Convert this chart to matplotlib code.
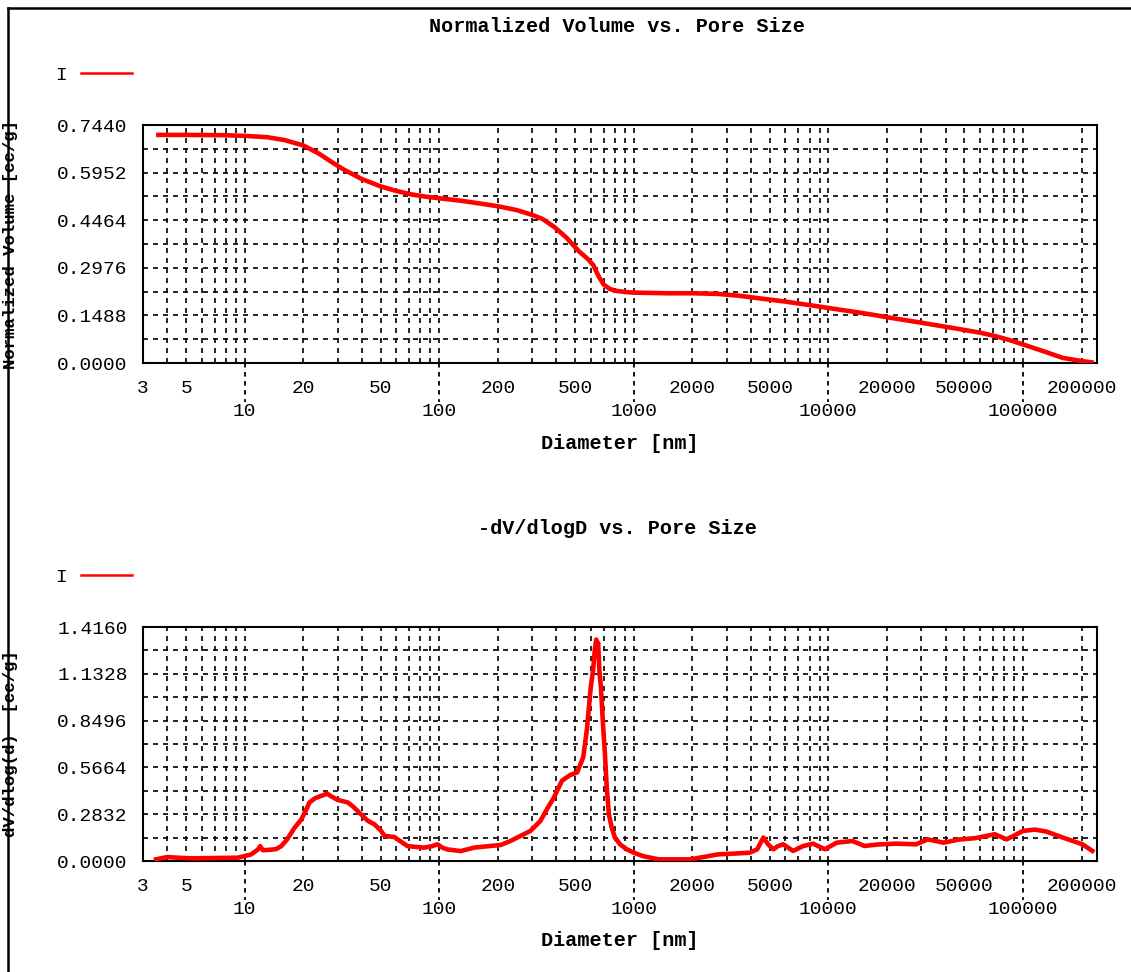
import numpy as np
import matplotlib
matplotlib.use('Agg')
import matplotlib.pyplot as plt
from matplotlib.lines import Line2D
from matplotlib.ticker import FixedLocator, FuncFormatter, NullFormatter
import matplotlib.transforms as mtrans

plt.rcParams['font.family'] = ['Liberation Mono', 'DejaVu Sans Mono']

# cumulative normalized volume
diamTop = [3.6, 5, 8, 10, 13, 16, 20, 24, 28, 32, 40, 50, 60, 72, 85, 100, 130, 160, 200,
           250, 300, 340, 390, 450, 520, 580, 620, 660, 700, 750, 800, 900, 1000, 1500,
           2000, 2700, 3500, 4300, 6000, 8000, 10000, 15000, 22000, 30000, 45000, 60000,
           72000, 85000, 100000, 130000, 160000, 200000, 225000]
volTop = [0.713, 0.713, 0.712, 0.710, 0.706, 0.697, 0.680, 0.655, 0.628, 0.606, 0.575,
          0.552, 0.538, 0.527, 0.520, 0.515, 0.507, 0.499, 0.490, 0.478, 0.463, 0.450,
          0.425, 0.392, 0.350, 0.325, 0.305, 0.270, 0.245, 0.232, 0.226, 0.222, 0.220,
          0.218, 0.218, 0.216, 0.210, 0.203, 0.192, 0.181, 0.172, 0.156, 0.139, 0.126,
          0.108, 0.095, 0.084, 0.072, 0.058, 0.035, 0.016, 0.006, 0.002]

# -dV/dlogD
diamBot = [3.5, 4.0, 4.5, 5.3, 7, 9.2, 10, 10.8, 11.7, 12.0, 12.4, 13.5, 14.5, 15.4, 16.5,
           18, 19.5, 20.5, 21.5, 23, 24.7, 26.5, 27.5, 30, 33.9, 36, 38, 42.9, 46.4, 50,
           52.3, 58.8, 63, 68.7, 76, 83.6, 92, 97.8, 104, 110, 129, 151, 180, 207, 232,
           250, 272, 294, 331, 360, 388, 427, 470, 511, 549, 574, 600, 617, 630, 641, 648,
           655, 665, 677, 692, 710, 725, 744, 770, 799, 850, 919, 1000, 1110, 1338, 1946,
           2300, 2700, 3300, 3930, 4300, 4630, 4900, 5210, 5500, 5855, 6580, 7400, 8325,
           9590, 11030, 13300, 15300, 18000, 22300, 28200, 32400, 39000, 47000, 56600,
           71600, 82400, 100000, 115000, 132000, 160000, 202000, 227000]
dvBot = [0.01, 0.024, 0.02, 0.016, 0.018, 0.02, 0.03, 0.04, 0.07, 0.09, 0.065, 0.068,
         0.072, 0.09, 0.13, 0.2, 0.25, 0.30, 0.354, 0.38, 0.394, 0.408, 0.395, 0.37,
         0.354, 0.33, 0.303, 0.243, 0.222, 0.185, 0.152, 0.145, 0.12, 0.09, 0.085, 0.081,
         0.09, 0.101, 0.08, 0.07, 0.06, 0.081, 0.09, 0.097, 0.121, 0.14, 0.162, 0.182,
         0.243, 0.32, 0.384, 0.486, 0.52, 0.536, 0.627, 0.80, 1.05, 1.153, 1.28, 1.34,
         1.30, 1.32, 1.15, 1.052, 0.85, 0.647, 0.45, 0.283, 0.2, 0.142, 0.1, 0.071, 0.05,
         0.03, 0.01, 0.01, 0.025, 0.04, 0.045, 0.05, 0.07, 0.142, 0.1, 0.071, 0.09, 0.101,
         0.061, 0.09, 0.105, 0.071, 0.111, 0.121, 0.091, 0.1, 0.105, 0.101, 0.131, 0.111,
         0.13, 0.138, 0.162, 0.131, 0.182, 0.19, 0.178, 0.142, 0.101, 0.061]

xMin, xMax = 3, 240000
majorX = [10, 100, 1000, 10000, 100000]
labelledMinor = [3, 5, 20, 50, 200, 500, 2000, 5000, 20000, 50000, 200000]
topMax, topStep = 0.744, 0.0744
botMax, botStep = 1.416, 0.1416

W, H = 1131, 972
fig = plt.figure(figsize=(W / 100, H / 100), dpi=100)

def setupAxes(ax, ymax, ystep, ylabel):
	ax.set_xscale('log')
	ax.set_xlim(xMin, xMax)
	ax.set_ylim(0, ymax)
	minors = [m * 10 ** e for e in range(0, 6) for m in range(2, 10) if xMin <= m * 10 ** e <= xMax]
	minors = [v for v in minors if v not in majorX]
	ax.xaxis.set_major_locator(FixedLocator(majorX))
	ax.xaxis.set_minor_locator(FixedLocator(minors))
	ax.xaxis.set_major_formatter(FuncFormatter(lambda v, p: '%d' % round(v)))
	ax.xaxis.set_minor_formatter(FuncFormatter(
		lambda v, p: ('%d' % round(v)) if any(abs(v - l) < 1e-6 * l for l in labelledMinor) else ''))
	yt = np.arange(0, 11) * ystep
	ax.yaxis.set_major_locator(FixedLocator(yt[::2]))
	ax.yaxis.set_minor_locator(FixedLocator(yt[1::2]))
	ax.yaxis.set_major_formatter(FuncFormatter(lambda v, p: '%.4f' % v))
	ax.yaxis.set_minor_formatter(NullFormatter())
	ax.tick_params(axis='x', which='major', length=0, pad=29, labelsize=14)
	ax.tick_params(axis='x', which='minor', length=0, pad=12, labelsize=14)
	ax.tick_params(axis='y', which='both', length=0, pad=11, labelsize=14)
	ax.grid(True, which='both', color='k', ls=(0, (3, 3)), lw=1.2)
	for s in ax.spines.values():
		s.set_linewidth(1.5)
	# dashed outward major ticks, gnuplot style
	trans = mtrans.blended_transform_factory(ax.transData, ax.transAxes)
	for v in majorX:
		ax.plot([v, v], [0, -0.165], transform=trans, clip_on=False, color='k',
				ls=(0, (2.5, 2.5)), lw=1.3)
	ax.set_xlabel('Diameter [nm]', fontsize=14.5, fontweight='bold')
	ax.xaxis.set_label_coords(0.5, -0.30)
	ax.set_ylabel(ylabel, fontsize=12.5, fontweight='bold')
	ax.yaxis.set_label_coords(-0.131, 0.5)

axTop = fig.add_axes([143 / W, 1 - 363 / H, 954 / W, 238 / H])
axBot = fig.add_axes([143 / W, 1 - 861 / H, 954 / W, 234 / H])

axTop.plot(diamTop, volTop, color='red', lw=3.3, label='I', zorder=5)
axBot.plot(diamBot, dvBot, color='red', lw=3.3, label='I', zorder=5)

setupAxes(axTop, topMax, topStep, 'Normalized Volume [cc/g]')
setupAxes(axBot, botMax, botStep, 'dV/dlog(d)  [cc/g]')

fig.text(617 / W, 1 - 27 / H, 'Normalized Volume vs. Pore Size', ha='center', va='center',
		 fontsize=14.5, fontweight='bold')
fig.text(617 / W, 1 - 528 / H, '-dV/dlogD vs. Pore Size', ha='center', va='center',
		 fontsize=14.5, fontweight='bold')

for ax, ly in [(axTop, 75), (axBot, 577)]:
	leg = ax.legend(loc='center left', bbox_to_anchor=(55 / W, 1 - ly / H),
					bbox_transform=fig.transFigure, frameon=False, markerfirst=False,
					handlelength=2.6, handletextpad=0.75, borderpad=0, borderaxespad=0,
					prop={'size': 14})
	leg.get_lines()[0].set_linewidth(1.8)

# outer frame (left and top edges visible)
fig.add_artist(Line2D([8 / W, 8 / W], [0, 1 - 8 / H], transform=fig.transFigure, color='k', lw=1.8))
fig.add_artist(Line2D([8 / W, 1], [1 - 8 / H, 1 - 8 / H], transform=fig.transFigure, color='k', lw=1.8))

fig.savefig('out.png', dpi=100)
